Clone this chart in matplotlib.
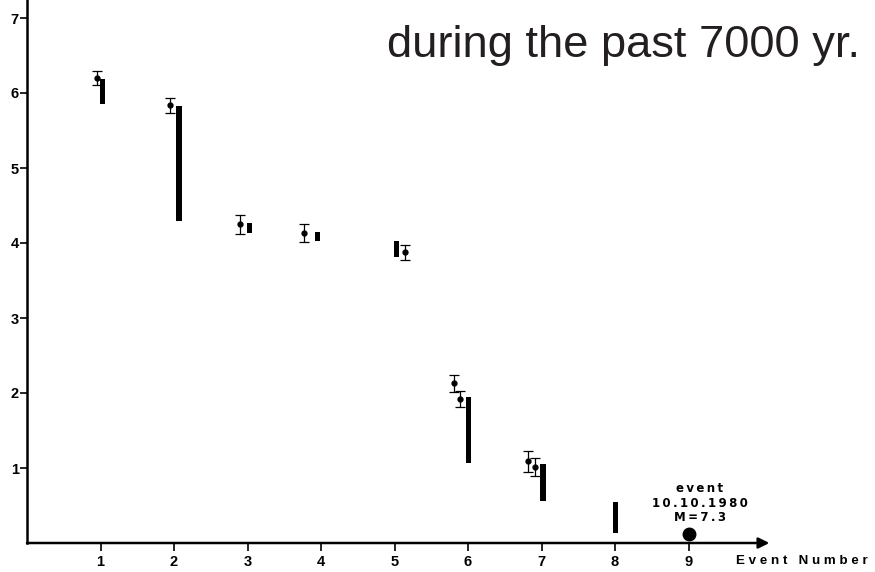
import matplotlib
matplotlib.use("Agg")
import matplotlib.pyplot as plt

plt.rcParams['font.family'] = ['Liberation Sans', 'DejaVu Sans']

# black bars (ranges) per event
bar_x = [1.03, 2.07, 3.03, 3.95, 5.03, 6.01, 7.02, 8.01]
bar_top = [6.19, 5.83, 4.27, 4.15, 4.03, 1.95, 1.05, 0.55]
bar_bottom = [5.85, 4.29, 4.13, 4.03, 3.81, 1.07, 0.56, 0.13]

# dated points with error bars
pt_x = [0.95, 1.95, 2.90, 3.77, 5.14, 5.81, 5.89, 6.82, 6.91]
pt_y = [6.20, 5.84, 4.25, 4.13, 3.88, 2.13, 1.92, 1.09, 1.01]
pt_err = [0.10, 0.10, 0.13, 0.12, 0.10, 0.11, 0.11, 0.14, 0.12]

# 1980 event
last_x = 9
last_y = 0.12
last_lines = ["event", "10.10.1980", "M=7.3"]

x_ticks = [1, 2, 3, 4, 5, 6, 7, 8, 9]
y_ticks = [1, 2, 3, 4, 5, 6, 7]


def spaced(s, gap='\u2009'):
    return gap.join(s)


W, H = 875, 572
fig = plt.figure(figsize=(W / 100, H / 100), dpi=100)
ax = fig.add_axes([27 / W, (H - 543) / H, (W - 27) / W, 543 / H])
ax.set_xlim(0, (W - 27) / 73.5)
ax.set_ylim(0, 543 / 75)

heights = [t - b for t, b in zip(bar_top, bar_bottom)]
ax.bar(bar_x, heights, bottom=bar_bottom, width=0.075, color='black')

ax.errorbar(pt_x, pt_y, yerr=pt_err, fmt='o', color='black', ms=3.5,
            elinewidth=0.9, capsize=3.5, capthick=0.9)

ax.plot([last_x], [last_y], 'o', color='black', ms=9, clip_on=False, zorder=5)
ax.text(9.15, 0.53, "\n".join(spaced(s) for s in last_lines), ha='center',
        va='center', fontsize=8.5, fontweight='bold', linespacing=1.15,
        fontfamily='DejaVu Sans')

# axes styling
for s in ['top', 'right', 'bottom']:
    ax.spines[s].set_visible(False)
ax.spines['left'].set_linewidth(1.8)
ax.annotate('', xy=(10.1, 0), xytext=(0, 0), xycoords='data',
            arrowprops=dict(arrowstyle='-|>', lw=1.8, color='black',
                            mutation_scale=16, shrinkA=0, shrinkB=0),
            annotation_clip=False)

ax.set_xticks(x_ticks)
ax.set_yticks(y_ticks)
ax.tick_params(axis='y', direction='out', length=5, width=1.2, pad=1,
               labelsize=10.5)
ax.tick_params(axis='x', direction='out', length=6, width=1.2, pad=3,
               labelsize=10.5)
for lab in ax.get_xticklabels() + ax.get_yticklabels():
    lab.set_fontweight('bold')

fig.text(736 / W, 1 - 561 / H, "E v e n t   N u m b e r", ha='left',
         va='center', fontsize=9.6, fontweight='bold')

fig.text(860 / W, 1 - 45 / H, "during the past 7000 yr.", ha='right',
         va='center', fontsize=32.6, color='#231f20')

fig.savefig("out.png", dpi=100)
